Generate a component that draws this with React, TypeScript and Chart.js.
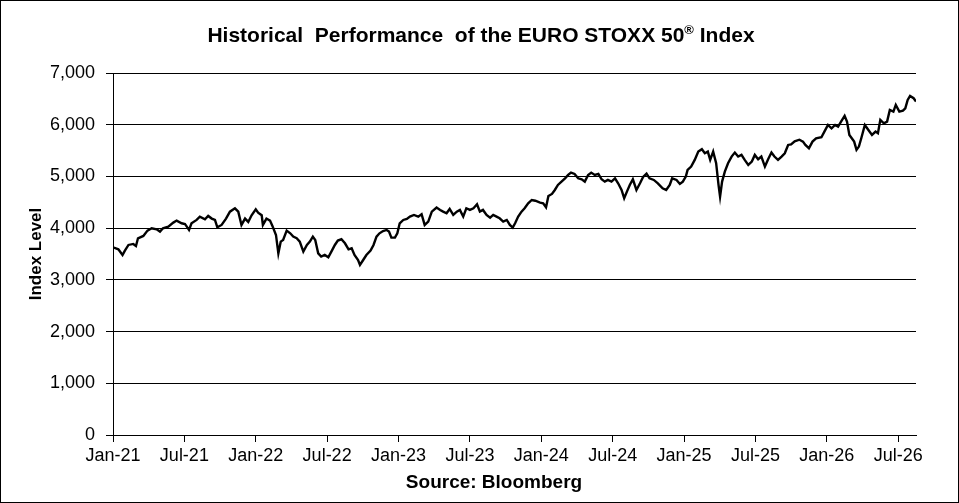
import React, { useRef, useEffect } from 'react';
import { Chart, registerables } from 'chart.js';

Chart.register(...registerables);

// months since Jan-2021
const months = [
  0, 0.45, 0.8, 1.0, 1.3, 1.7, 1.93, 2.1, 2.55, 2.9, 3.25, 3.67, 3.95, 4.2, 4.65, 5.07, 5.35, 5.77,
  6.05, 6.39, 6.6, 7.03, 7.3, 7.73, 8.0, 8.3, 8.57, 8.77, 9.13, 9.5, 9.83, 10.25, 10.53, 10.8, 11.1,
  11.37, 11.65, 12.0, 12.2, 12.5, 12.6, 12.9, 13.2, 13.4, 13.7, 13.9, 14.1, 14.3, 14.6, 14.9, 15.15,
  15.44, 15.7, 16.0, 16.3, 16.55, 16.8, 17.0, 17.25, 17.5, 17.8, 18.1, 18.4, 18.65, 18.9, 19.2, 19.5,
  19.8, 20.06, 20.3, 20.6, 20.76, 21.03, 21.3, 21.65, 21.9, 22.15, 22.4, 22.7, 23.0, 23.2, 23.4, 23.7,
  23.9, 24.1, 24.4, 24.7, 24.96, 25.3, 25.66, 25.94, 26.2, 26.5, 26.8, 27.2, 27.5, 27.75, 28.04, 28.3,
  28.6, 28.9, 29.16, 29.44, 29.7, 30.0, 30.3, 30.6, 30.84, 31.1, 31.4, 31.7, 31.96, 32.24, 32.5, 32.8,
  33.1, 33.36, 33.6, 33.8, 34.06, 34.34, 34.6, 34.9, 35.2, 35.5, 35.9, 36.16, 36.4, 36.6, 36.9, 37.14,
  37.4, 37.7, 38.0, 38.26, 38.5, 38.8, 39.1, 39.4, 39.66, 39.94, 40.2, 40.5, 40.8, 41.07, 41.34, 41.6,
  41.9, 42.2, 42.46, 42.75, 42.97, 43.2, 43.44, 43.7, 44.0, 44.3, 44.56, 44.85, 45.1, 45.46, 45.8,
  46.2, 46.5, 46.8, 47.0, 47.37, 47.65, 47.9, 48.15, 48.3, 48.6, 48.9, 49.2, 49.5, 49.75, 50.0, 50.2,
  50.45, 50.7, 50.9, 51.03, 51.2, 51.43, 51.7, 52.0, 52.27, 52.55, 52.83, 53.1, 53.4, 53.7, 53.95,
  54.23, 54.5, 54.8, 55.07, 55.35, 55.6, 55.9, 56.2, 56.47, 56.75, 57.0, 57.3, 57.7, 58.0, 58.2, 58.5,
  58.8, 59.1, 59.55, 59.8, 60.1, 60.4, 60.7, 60.95, 61.2, 61.5, 61.7, 61.9, 62.1, 62.3, 62.5, 62.7,
  62.9, 63.2, 63.5, 63.8, 64.1, 64.3, 64.5, 64.8, 65.07, 65.3, 65.6, 65.8, 66.1, 66.4, 66.6, 66.8,
  67.0, 67.3, 67.5,
];

const indexLevels = [
  3630, 3591, 3481, 3566, 3675, 3695, 3656, 3804, 3849, 3952, 3997, 3978, 3933, 3997, 4030, 4107, 4146, 4094,
  4081, 3965, 4094, 4159, 4223, 4172, 4236, 4185, 4159, 4017, 4062, 4185, 4319, 4384, 4319, 4062, 4185,
  4120, 4249, 4365, 4300, 4249, 4062, 4185, 4146, 4043, 3868, 3513, 3740, 3772, 3952, 3900, 3836,
  3804, 3740, 3546, 3675, 3740, 3836, 3772, 3513, 3449, 3481, 3436, 3566, 3675, 3759, 3785, 3707,
  3591, 3610, 3481, 3384, 3288, 3384, 3481, 3566, 3675, 3836, 3900, 3945, 3965, 3933, 3817, 3817,
  3900, 4094, 4158, 4178, 4223, 4255, 4223, 4268, 4062, 4126, 4319, 4397, 4352, 4319, 4287, 4371,
  4255, 4319, 4352, 4223, 4384, 4352, 4384, 4461, 4319, 4352, 4255, 4203, 4255, 4223, 4190, 4126,
  4158, 4062, 4010, 4094, 4223, 4319, 4384, 4480, 4545, 4530, 4494, 4481, 4403, 4622, 4661, 4738,
  4835, 4900, 4964, 5029, 5074, 5048, 4964, 4945, 4900, 5029, 5074, 5029, 5048, 4945, 4900, 4932,
  4900, 4964, 4867, 4738, 4577, 4706, 4835, 4945, 4738, 4867, 4990, 5055, 4964, 4932, 4867,
  4770, 4738, 4835, 4964, 4932, 4855, 4900, 4996, 5125, 5190, 5319, 5480, 5526, 5448, 5480, 5319,
  5480, 5255, 4835, 4609, 4900, 5093, 5255, 5384, 5461, 5384, 5416, 5319, 5222, 5287, 5416,
  5332, 5384, 5190, 5332, 5461, 5384, 5319, 5384, 5448, 5609, 5620, 5680, 5710, 5674, 5609, 5545,
  5674, 5738, 5758, 5867, 5995, 5931, 5995, 5963, 6060, 6170, 6060, 5802, 5738, 5674, 5513, 5577,
  5738, 5995, 5899, 5802, 5867, 5835, 6093, 6028, 6060, 6286, 6254, 6383, 6254, 6273, 6318, 6480,
  6557, 6512, 6447,
];

const tickMonths = [0, 6, 12, 18, 24, 30, 36, 42, 48, 54, 60, 66];
const tickLabels = ['Jan-21', 'Jul-21', 'Jan-22', 'Jul-22', 'Jan-23', 'Jul-23', 'Jan-24', 'Jul-24', 'Jan-25', 'Jul-25', 'Jan-26', 'Jul-26'];

const FONT = '"Liberation Sans", Arial, Helvetica, sans-serif';

// title with a raised ®, the source note and the frame round the picture
const decorPlugin = {
  id: 'decor',
  afterDraw(chart: any) {
    const ctx = chart.ctx;
    ctx.save();
    ctx.strokeStyle = '#000';
    ctx.lineWidth = 1;
    ctx.strokeRect(0.5, 0.5, chart.width - 1, chart.height - 1);

    const main = 'Historical  Performance  of the EURO STOXX 50';
    const mark = '®';
    const tail = ' Index';
    const big = `bold 21px ${FONT}`;
    const small = `bold 13px ${FONT}`;
    ctx.font = big;
    const w1 = ctx.measureText(main).width;
    const w3 = ctx.measureText(tail).width;
    ctx.font = small;
    const w2 = ctx.measureText(mark).width;
    const total = w1 + w2 + w3;
    let x = 481 - total / 2;
    const y = 42;
    ctx.fillStyle = '#000';
    ctx.textBaseline = 'alphabetic';
    ctx.textAlign = 'left';
    ctx.font = big;
    ctx.fillText(main, x, y);
    x += w1;
    ctx.font = small;
    ctx.fillText(mark, x, y - 8);
    x += w2;
    ctx.font = big;
    ctx.fillText(tail, x, y);

    ctx.textAlign = 'center';
    ctx.font = `bold 19px ${FONT}`;
    ctx.fillText('Source: Bloomberg', 494, 488);
    ctx.restore();
  },
};

const App: React.FC = () => {
  const canvasRef = useRef<HTMLCanvasElement>(null);

  useEffect(() => {
    document.body.style.margin = '0';
    if (!canvasRef.current) return;
    const points = months.map((m, i) => ({ x: m, y: indexLevels[i] }));
    const chart = new Chart(canvasRef.current, {
      type: 'line',
      data: {
        datasets: [
          {
            data: points,
            borderColor: '#000',
            borderWidth: 2.4,
            pointRadius: 0,
            tension: 0,
            fill: false,
          },
        ],
      },
      options: {
        animation: false,
        responsive: true,
        maintainAspectRatio: false,
        layout: { padding: { left: 0, right: 43, top: 73, bottom: 0 } },
        plugins: {
          legend: { display: false },
          tooltip: { enabled: false },
          title: { display: false },
        },
        scales: {
          x: {
            type: 'linear',
            min: 0,
            max: 67.5,
            afterFit: (scale: any) => {
              scale.height = 68;
            },
            afterBuildTicks: (scale: any) => {
              scale.ticks = tickMonths.map((v) => ({ value: v }));
            },
            ticks: {
              autoSkip: false,
              maxRotation: 0,
              padding: 3,
              color: '#000',
              font: { family: FONT, size: 18 },
              callback: (_v: any, i: number) => tickLabels[i],
            },
            grid: { drawOnChartArea: false, drawTicks: true, tickLength: 7, color: '#000' },
            border: { display: true, color: '#000', width: 1 },
          },
          y: {
            min: 0,
            max: 7000,
            afterFit: (scale: any) => {
              scale.width = 113;
            },
            ticks: {
              stepSize: 1000,
              padding: 11,
              color: '#000',
              font: { family: FONT, size: 18 },
              callback: (v: any) => Number(v).toLocaleString('en-US'),
            },
            grid: { color: '#000', lineWidth: 1, drawTicks: true, tickLength: 7 },
            border: { display: true, color: '#000', width: 1 },
            title: {
              display: true,
              text: 'Index Level',
              color: '#000',
              font: { family: FONT, size: 17, weight: 'bold' },
              padding: { top: 26, bottom: 0 },
            },
          },
        },
      },
      plugins: [decorPlugin],
    });
    return () => {
      chart.destroy();
    };
  }, []);

  return (
    <div style={{ position: 'relative', width: 959, height: 503 }}>
      <canvas ref={canvasRef} />
    </div>
  );
};

export default App;
